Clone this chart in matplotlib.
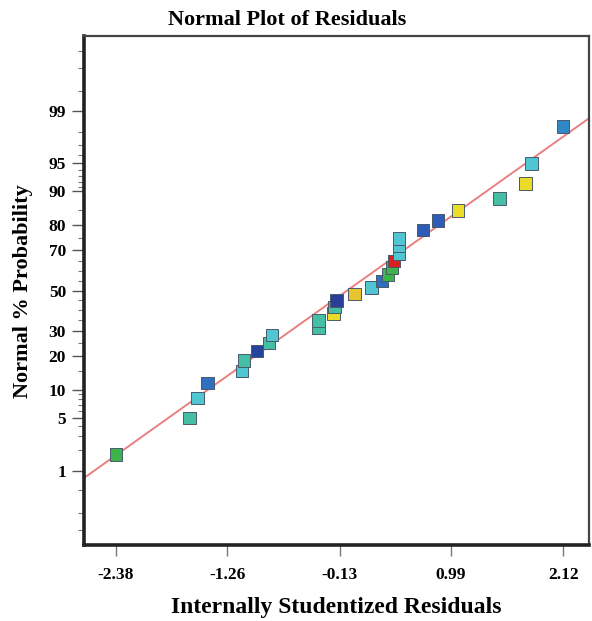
import matplotlib
matplotlib.use("Agg")
import matplotlib.pyplot as plt
from statistics import NormalDist

# ───── DATA ─────
# internally studentized residuals, sorted
residuals = [-2.38, -1.64, -1.56, -1.46, -1.11, -1.09, -0.96, -0.84, -0.81, -0.34,
             -0.34, -0.19, -0.18, -0.16, 0.02, 0.19, 0.30, 0.36, 0.40, 0.42,
             0.47, 0.47, 0.47, 0.71, 0.86, 1.06, 1.48, 1.74, 1.80, 2.12]
# normal % probability of each residual
probability = [1.7, 5.0, 8.3, 11.7, 15.0, 18.3, 21.7, 25.0, 28.3, 31.7,
               35.0, 38.3, 41.7, 45.0, 48.3, 51.7, 55.0, 58.3, 61.7, 65.0,
               68.3, 71.7, 75.0, 78.3, 81.7, 85.0, 88.3, 91.7, 95.0, 98.3]
# point colours (by response value)
point_colors = ["#3cb44a", "#45bfa3", "#4fc6d2", "#2f6fc0", "#4fc6d2", "#45bfa3",
                "#27449c", "#45bfa3", "#4fc6d2", "#45bfa3", "#45bfa3", "#ecdc2a",
                "#45bfa3", "#2b3f9a", "#e8c332", "#4fc6d2", "#2f6fc0", "#3cb44a",
                "#3cb44a", "#dc2020", "#4fc6d2", "#4fc6d2", "#4fc6d2", "#2f5cb8",
                "#2f5cb8", "#ecdc2a", "#45bfa3", "#ecdc2a", "#4fc6d2", "#3088c4"]

x_ticks = [-2.38, -1.26, -0.13, 0.99, 2.12]
y_ticks = [1, 5, 10, 20, 30, 50, 70, 80, 90, 95, 99]
y_minor = [0.1, 0.2, 0.5, 2, 3, 4, 6, 7, 8, 9, 15, 25, 35, 40, 45, 55, 60, 65,
           75, 85, 91, 92, 93, 94, 96, 97, 98, 99.5, 99.8, 99.9]

# fitted reference line (in z units): z = a + b * residual
line_a, line_b = 0.05, 0.915

nd = NormalDist()
z = lambda p: nd.inv_cdf(p / 100.0)

# ───── PLOT ─────
plt.rcParams["font.family"] = ["Liberation Serif", "DejaVu Serif"]
plt.rcParams["font.weight"] = "bold"

fig = plt.figure(figsize=(5.92, 6.21), dpi=100)
ax = fig.add_axes([0.142, 0.122, 0.853, 0.820])

xmin, xmax = -2.70, 2.38
ax.plot([xmin, xmax], [line_a + line_b * xmin, line_a + line_b * xmax],
        color="#e98080", lw=1.4, zorder=1)

ax.scatter(residuals, [z(p) for p in probability], marker="s", s=80,
           c=point_colors, edgecolors="#4a5a6a", linewidths=0.7, zorder=3)

ax.set_xlim(xmin, xmax)
ax.set_ylim(-3.29, 3.29)

ax.set_xticks(x_ticks)
ax.set_xticklabels([f"{t:.2f}" for t in x_ticks], fontsize=12.5, fontweight="bold")
ax.set_yticks([z(p) for p in y_ticks])
ax.set_yticklabels([str(p) for p in y_ticks], fontsize=12.5, fontweight="bold")
ax.set_yticks([z(p) for p in y_minor], minor=True)

ax.tick_params(axis="y", which="major", length=9, width=1.0, color="#555555", pad=4)
ax.tick_params(axis="y", which="minor", length=4, width=0.8, color="#777777")
ax.tick_params(axis="x", which="major", length=8, width=1.0, color="#777777", pad=8)

for side in ["left", "bottom"]:
    ax.spines[side].set_linewidth(2.6)
    ax.spines[side].set_color("#222222")
for side in ["top", "right"]:
    ax.spines[side].set_linewidth(1.6)
    ax.spines[side].set_color("#444444")

ax.set_xlabel("Internally Studentized Residuals", fontsize=17, fontweight="bold", labelpad=10)
ax.set_ylabel("Normal % Probability", fontsize=16, fontweight="bold", labelpad=11)
fig.text(0.485, 0.968, "Normal Plot of Residuals", ha="center", va="center",
         fontsize=16, fontweight="bold")

fig.savefig("out.png", dpi=100)
